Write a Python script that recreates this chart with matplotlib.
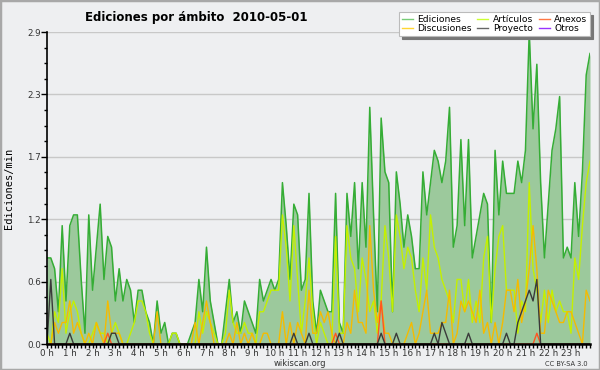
import numpy as np
import matplotlib
matplotlib.use('Agg')
import matplotlib.pyplot as plt
from matplotlib.lines import Line2D
from matplotlib.patches import Rectangle
from matplotlib.ticker import FixedLocator, MultipleLocator

# ediciones por minuto, tramos de 10 minutos (144 tramos)
ediciones = [
    0.8, 0.8, 0.7, 0.3, 1.1, 0.4, 1.1, 1.2, 1.2, 0.6, 0.1, 1.2,
    0.5, 0.9, 1.3, 0.6, 1.0, 0.9, 0.4, 0.7, 0.4, 0.6, 0.5, 0.2,
    0.5, 0.5, 0.3, 0.2, 0.0, 0.4, 0.1, 0.2, 0.0, 0.1, 0.1, 0.0,
    0.0, 0.0, 0.1, 0.2, 0.6, 0.3, 0.9, 0.4, 0.2, 0.0, 0.0, 0.3,
    0.6, 0.2, 0.3, 0.1, 0.4, 0.3, 0.2, 0.1, 0.6, 0.4, 0.5, 0.6,
    0.5, 0.6, 1.5, 1.1, 0.6, 1.3, 1.2, 0.5, 0.6, 1.4, 0.4, 0.1,
    0.5, 0.4, 0.3, 0.3, 1.4, 0.2, 0.1, 1.4, 1.0, 1.5, 0.7, 1.5,
    0.9, 2.2, 1.2, 0.3, 2.1, 1.6, 1.5, 0.3, 1.6, 1.3, 0.9, 1.2,
    1.0, 0.7, 0.7, 1.6, 1.2, 1.5, 1.8, 1.7, 1.5, 1.7, 2.2, 0.9,
    1.1, 1.9, 1.1, 1.9, 0.8, 1.0, 1.2, 1.4, 1.3, 0.2, 1.8, 1.2,
    1.7, 1.4, 1.4, 1.4, 1.7, 1.5, 1.8, 2.9, 2.0, 2.6, 1.5, 0.8,
    1.3, 1.8, 2.0, 2.3, 0.8, 0.9, 0.8, 1.5, 1.0, 1.6, 2.5, 2.7,
]
articulos = [
    0.1, 0.0, 0.3, 0.2, 0.7, 0.1, 0.3, 0.4, 0.3, 0.1, 0.0, 0.0,
    0.1, 0.2, 0.1, 0.1, 0.0, 0.1, 0.2, 0.1, 0.0, 0.0, 0.1, 0.2,
    0.4, 0.4, 0.3, 0.1, 0.0, 0.0, 0.0, 0.0, 0.0, 0.1, 0.1, 0.0,
    0.0, 0.0, 0.0, 0.0, 0.3, 0.1, 0.3, 0.2, 0.1, 0.0, 0.0, 0.1,
    0.5, 0.2, 0.1, 0.1, 0.2, 0.1, 0.1, 0.0, 0.3, 0.3, 0.4, 0.5,
    0.5, 0.5, 1.2, 0.9, 0.4, 1.1, 0.6, 0.1, 0.4, 0.8, 0.3, 0.0,
    0.2, 0.1, 0.0, 0.0, 1.0, 0.1, 0.1, 1.1, 0.8, 0.7, 0.3, 0.8,
    0.6, 0.3, 0.4, 0.1, 0.4, 1.1, 0.8, 0.3, 1.2, 1.0, 0.7, 0.9,
    0.8, 0.5, 0.3, 0.8, 0.5, 1.2, 0.9, 0.8, 0.6, 0.5, 0.4, 0.2,
    0.6, 0.6, 0.3, 0.6, 0.2, 0.4, 0.2, 0.8, 1.0, 0.2, 0.7, 1.0,
    1.1, 0.5, 0.5, 0.5, 0.1, 0.4, 0.3, 1.5, 0.7, 0.5, 0.2, 0.5,
    0.2, 0.5, 0.3, 0.4, 0.3, 0.3, 0.1, 0.8, 0.6, 1.1, 1.5, 1.7,
]
discusiones = [
    0.0, 0.0, 0.2, 0.1, 0.2, 0.2, 0.4, 0.1, 0.2, 0.1, 0.0, 0.1,
    0.0, 0.2, 0.1, 0.0, 0.4, 0.1, 0.1, 0.1, 0.0, 0.0, 0.0, 0.0,
    0.0, 0.0, 0.0, 0.0, 0.0, 0.3, 0.0, 0.0, 0.0, 0.0, 0.0, 0.0,
    0.0, 0.0, 0.0, 0.2, 0.0, 0.2, 0.4, 0.2, 0.0, 0.0, 0.0, 0.0,
    0.1, 0.0, 0.2, 0.0, 0.1, 0.0, 0.1, 0.0, 0.0, 0.1, 0.1, 0.0,
    0.0, 0.0, 0.3, 0.0, 0.2, 0.0, 0.2, 0.1, 0.0, 0.5, 0.1, 0.1,
    0.3, 0.2, 0.3, 0.1, 0.0, 0.0, 0.0, 0.2, 0.1, 0.5, 0.2, 0.2,
    0.1, 1.1, 0.5, 0.2, 0.4, 0.1, 0.1, 0.0, 0.0, 0.0, 0.0, 0.1,
    0.2, 0.0, 0.1, 0.3, 0.5, 0.1, 0.1, 0.1, 0.2, 0.2, 0.5, 0.0,
    0.1, 0.4, 0.3, 0.4, 0.3, 0.2, 0.5, 0.1, 0.2, 0.0, 0.2, 0.0,
    0.2, 0.5, 0.5, 0.3, 0.6, 0.2, 0.4, 0.7, 1.1, 0.7, 0.1, 0.1,
    0.5, 0.4, 0.3, 0.2, 0.2, 0.3, 0.3, 0.2, 0.1, 0.0, 0.5, 0.4,
]
proyecto = [
    0.0, 0.6, 0.0, 0.0, 0.0, 0.0, 0.1, 0.0, 0.0, 0.0, 0.0, 0.0,
    0.0, 0.0, 0.0, 0.0, 0.0, 0.1, 0.1, 0.0, 0.0, 0.0, 0.0, 0.0,
    0.0, 0.0, 0.0, 0.0, 0.0, 0.0, 0.0, 0.0, 0.0, 0.0, 0.0, 0.0,
    0.0, 0.0, 0.0, 0.0, 0.0, 0.0, 0.0, 0.0, 0.0, 0.0, 0.0, 0.0,
    0.0, 0.0, 0.0, 0.0, 0.0, 0.0, 0.0, 0.0, 0.0, 0.0, 0.0, 0.0,
    0.0, 0.0, 0.0, 0.0, 0.0, 0.1, 0.0, 0.0, 0.0, 0.1, 0.0, 0.0,
    0.0, 0.0, 0.0, 0.0, 0.0, 0.1, 0.0, 0.0, 0.0, 0.0, 0.0, 0.0,
    0.0, 0.0, 0.0, 0.0, 0.1, 0.0, 0.0, 0.0, 0.1, 0.0, 0.0, 0.0,
    0.0, 0.0, 0.0, 0.0, 0.0, 0.0, 0.1, 0.0, 0.2, 0.1, 0.0, 0.0,
    0.0, 0.0, 0.0, 0.1, 0.0, 0.0, 0.0, 0.0, 0.0, 0.0, 0.0, 0.0,
    0.0, 0.1, 0.0, 0.0, 0.2, 0.3, 0.4, 0.5, 0.4, 0.6, 0.0, 0.0,
    0.0, 0.0, 0.0, 0.0, 0.0, 0.0, 0.0, 0.0, 0.0, 0.0, 0.0, 0.0,
]
anexos = [0.0] * 144
anexos[16] = 0.1
anexos[76] = 0.1
anexos[88] = 0.4
anexos[129] = 0.1
otros = [0.0] * 144

horas = [str(h) + ' h' for h in range(24)]

BG = '#eeeff1'
fig = plt.figure(figsize=(6, 3.7), dpi=100, facecolor=BG)
ax = fig.add_axes([47 / 600, 1 - 344 / 370, 543 / 600, 312 / 370], facecolor=BG)

x = np.arange(len(ediciones)) / 6.0

ax.fill_between(x, ediciones, 0, color='#9cc99c', lw=0, zorder=1)
ax.plot(x, ediciones, color='#35ad35', lw=1.1, zorder=3)
ax.plot(x, articulos, color='#c4f000', lw=1.0, zorder=3)
ax.plot(x, discusiones, color='#f5bb00', lw=1.0, zorder=3)
ax.plot(x, anexos, color='#ff5522', lw=1.0, zorder=3)
ax.plot(x, proyecto, color='#3a3a3a', lw=1.0, zorder=3)
ax.plot(x, otros, color='#9933ff', lw=1.0, zorder=2)

ymax = 2.9
ax.set_ylim(0, ymax)
ax.set_xlim(0, x[-1])
yt = [ymax * k / 5 for k in range(6)]
ax.set_yticks(yt)
ax.set_yticklabels(['%.1f' % v for v in yt])
ax.yaxis.set_minor_locator(FixedLocator([ymax * k / 20 for k in range(21)]))
ax.set_xticks(range(24))
ax.set_xticklabels(horas)
ax.xaxis.set_minor_locator(MultipleLocator(1 / 6))

ax.yaxis.grid(True, color='#c8c8c8', lw=1)
ax.set_axisbelow(True)
for s in ['top', 'right']:
    ax.spines[s].set_visible(False)
ax.spines['left'].set_linewidth(1.2)
ax.spines['bottom'].set_linewidth(1.8)
ax.spines['left'].set_zorder(4)
ax.spines['bottom'].set_zorder(4)

ax.tick_params(axis='both', which='both', direction='out', color='black', labelsize=6.3,
               labelcolor='#333333', pad=0.5)
ax.tick_params(axis='y', which='major', length=4, width=1)
ax.tick_params(axis='y', which='minor', length=2, width=1)
ax.tick_params(axis='x', which='major', length=3, width=1)
ax.tick_params(axis='x', which='minor', length=3, width=1)

fig.text(85 / 600, 1 - 17 / 370, 'Ediciones por ámbito  2010-05-01', fontsize=8.5,
         fontweight='bold', va='center', ha='left')
fig.text(9 / 600, 1 - 188 / 370, 'Ediciones/min', rotation=90, fontsize=7.5,
         family='DejaVu Sans Mono', va='center', ha='center')
fig.text(300 / 600, 1 - 363.5 / 370, 'wikiscan.org', fontsize=6, color='#333333',
         va='center', ha='center')
fig.text(588 / 600, 1 - 364 / 370, 'CC BY-SA 3.0', fontsize=4.8, color='#333333',
         va='center', ha='right')

handles = [
    Line2D([], [], color='#77cc77', lw=1, label='Ediciones'),
    Line2D([], [], color='#ffd633', lw=1, label='Discusiones'),
    Line2D([], [], color='#ccff33', lw=1, label='Artículos'),
    Line2D([], [], color='#666666', lw=1, label='Proyecto'),
    Line2D([], [], color='#ff7744', lw=1, label='Anexos'),
    Line2D([], [], color='#9933ff', lw=1, label='Otros'),
]
leg = ax.legend(handles=handles, ncol=3, loc='upper right',
                bbox_to_anchor=(590 / 600, 1 - 12 / 370), bbox_transform=fig.transFigure,
                fontsize=6.6, frameon=True, shadow={'color': '#777777', 'alpha': 1},
                fancybox=False, handlelength=1.2, handletextpad=0.5,
                columnspacing=0.6, labelspacing=0.05, borderpad=0.3, borderaxespad=0)
leg.get_frame().set_edgecolor('#bbbbbb')
leg.get_frame().set_linewidth(0.8)
leg.set_zorder(10)

fig.patches.append(Rectangle((0, 0), 1, 1, transform=fig.transFigure, fill=False,
                             ec='#a8a8a8', lw=2.5))

fig.savefig('out.png', dpi=100, facecolor=BG)
